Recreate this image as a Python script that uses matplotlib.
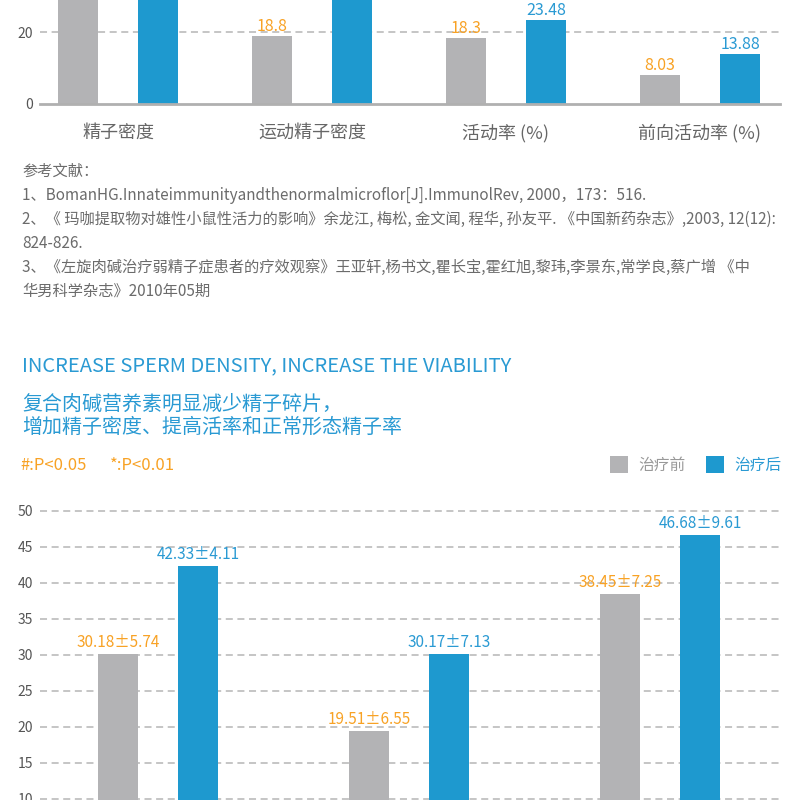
import matplotlib

matplotlib.use("Agg")
import matplotlib.pyplot as plt
from matplotlib.patches import Rectangle

plt.rcParams['font.family'] = ['Noto Sans CJK SC', 'DejaVu Sans']

W = H = 800

GRAY = "#b3b3b5"
BLUE = "#1e99cf"
ORANGE = "#f8a225"
TEXT_BLUE = "#2a9ad3"

# upper chart (only its lower part is visible in the picture)
top_categories = ["精子密度", "运动精子密度", "活动率 (%)", "前向活动率 (%)"]
top_before = [36.2, 18.8, 18.3, 8.03]     # first bar runs off the top, estimated
top_after = [52.6, 31.4, 23.48, 13.88]    # first two run off the top, estimated
top_ticks = [0, 20, 40]

# lower chart (category labels are cut off below the picture)
low_before = [30.18, 19.51, 38.45]
low_after = [42.33, 30.17, 46.68]
low_before_sd = [5.74, 6.55, 7.25]
low_after_sd = [4.11, 7.13, 9.61]
low_ticks = [10, 15, 20, 25, 30, 35, 40, 45, 50]

references = [
    "参考文献：",
    "1、BomanHG.Innateimmunityandthenormalmicroflor[J].ImmunolRev, 2000，173：516.",
    "2、《 玛咖提取物对雄性小鼠性活力的影响》余龙江, 梅松, 金文闻, 程华, 孙友平. 《中国新药杂志》,2003, 12(12):",
    "824-826.",
    "3、《左旋肉碱治疗弱精子症患者的疗效观察》王亚轩,杨书文,瞿长宝,霍红旭,黎玮,李景东,常学良,蔡广增 《中",
    "华男科学杂志》2010年05期",
]
title_en = "INCREASE SPERM DENSITY, INCREASE THE VIABILITY"
subtitle = ["复合肉碱营养素明显减少精子碎片，", "增加精子密度、提高活率和正常形态精子率"]
legend_labels = ["治疗前", "治疗后"]


def fx(x):
    return x / W


def fy(y):
    return 1 - y / H


def dashed_grid(ax, ticks):
    for t in ticks:
        ax.axhline(t, color="#b5b5b5", lw=1.1, dashes=(4.6, 3.0), zorder=0)


def style_axis(ax, pad):
    for s in ax.spines.values():
        s.set_visible(False)
    ax.set_xticks([])
    ax.tick_params(axis="y", length=0, pad=pad, labelsize=10, labelcolor="#555555")


fig = plt.figure(figsize=(8, 8), dpi=100)

# ---- upper chart: y=0 at px 103.5, 3.575 px per unit
px_unit = 3.575
ax1 = fig.add_axes([fx(40), fy(103.5), 740 / W, 103.5 / H])
step1 = 194.0
bw1 = 40 / step1
xs1 = range(len(top_categories))
dashed_grid(ax1, [t for t in top_ticks if t > 0])
ax1.bar([x - bw1 for x in xs1], top_before, width=bw1, color=GRAY, zorder=2)
ax1.bar([x + bw1 for x in xs1], top_after, width=bw1, color=BLUE, zorder=2)
ax1.axhline(0, color="#b0b0b0", lw=2.0, clip_on=False, zorder=3)
for x, v in zip(xs1, top_before):
    ax1.annotate(f"{v:g}", (x - bw1, v), xytext=(0, 3.6), textcoords="offset points",
                 ha="center", va="baseline", fontsize=11.5, color=ORANGE, clip_on=True)
for x, v in zip(xs1, top_after):
    ax1.annotate(f"{v:g}", (x + bw1, v), xytext=(0, 3.6), textcoords="offset points",
                 ha="center", va="baseline", fontsize=11.5, color=TEXT_BLUE, clip_on=True)
ax1.set_yticks(top_ticks)
ax1.set_ylim(0, 103.5 / px_unit)
ax1.set_xlim((40 - 118) / step1, (780 - 118) / step1)
style_axis(ax1, 5)
for x, name in zip(xs1, top_categories):
    fig.text(fx(118 + step1 * x), fy(133), name, ha="center", va="center",
             fontsize=13, color="#666666")

# ---- references
for i, line in enumerate(references):
    fig.text(fx(22), fy(171 + 24 * i), line, ha="left", va="center",
             fontsize=11, color="#6b6b6b")

# ---- lower chart header
fig.text(fx(22), fy(366), title_en, ha="left", va="center", fontsize=14.5, color=TEXT_BLUE)
fig.text(fx(22), fy(404), subtitle[0], ha="left", va="center", fontsize=14.4, color=TEXT_BLUE)
fig.text(fx(22), fy(427), subtitle[1], ha="left", va="center", fontsize=14.4, color=TEXT_BLUE)
fig.text(fx(20), fy(465), "#:P<0.05", ha="left", va="center", fontsize=12, color=ORANGE)
fig.text(fx(110), fy(465), "*:P<0.01", ha="left", va="center", fontsize=12, color=ORANGE)
for (x0, col, tcol), lab in zip([(610, GRAY, "#999999"), (706, BLUE, TEXT_BLUE)], legend_labels):
    fig.patches.append(Rectangle((fx(x0), fy(473)), 18 / W, 17 / H, transform=fig.transFigure,
                                 facecolor=col, edgecolor="none"))
    fig.text(fx(x0 + 28), fy(465), lab, ha="left", va="center", fontsize=11.3, color=tcol)

# ---- lower chart: y=50 at px 511, 7.2 px per unit
px_unit2 = 7.2
y_top = 52.0
y_bot = 50 - (800 - 511) / px_unit2
top_px = 511 - (y_top - 50) * px_unit2
ax2 = fig.add_axes([fx(40), 0, 740 / W, (800 - top_px) / H])
step2 = 251.0
bw2 = 40 / step2
xs2 = range(len(low_before))
dashed_grid(ax2, low_ticks)
ax2.bar([x - bw2 for x in xs2], low_before, width=bw2, color=GRAY, zorder=2)
ax2.bar([x + bw2 for x in xs2], low_after, width=bw2, color=BLUE, zorder=2)
for x, v, sd in zip(xs2, low_before, low_before_sd):
    ax2.annotate(f"{v:.2f}±{sd:.2f}", (x - bw2, v), xytext=(0, 5), textcoords="offset points",
                 ha="center", va="baseline", fontsize=11, color=ORANGE)
for x, v, sd in zip(xs2, low_after, low_after_sd):
    ax2.annotate(f"{v:.2f}±{sd:.2f}", (x + bw2, v), xytext=(0, 5), textcoords="offset points",
                 ha="center", va="baseline", fontsize=11, color=TEXT_BLUE)
ax2.set_yticks(low_ticks)
ax2.set_ylim(y_bot, y_top)
ax2.set_xlim((40 - 158) / step2, (780 - 158) / step2)
style_axis(ax2, 5)

fig.savefig("out.png", dpi=100)
